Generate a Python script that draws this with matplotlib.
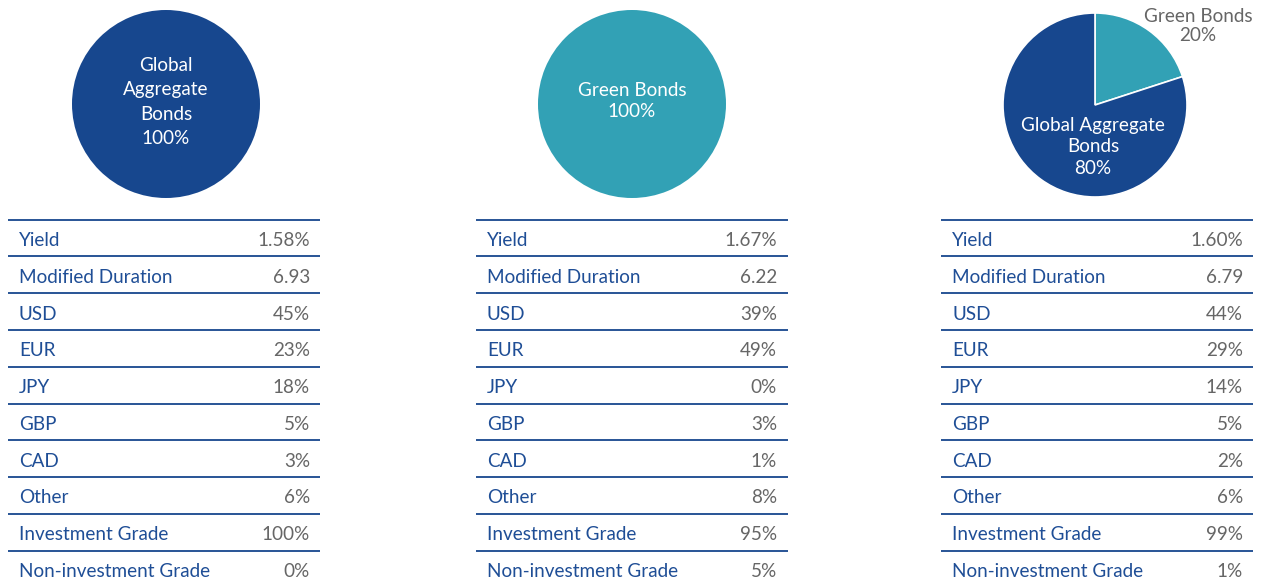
import matplotlib
matplotlib.use("Agg")
import matplotlib.pyplot as plt

# ---- data ----
row_labels = ["Yield", "Modified Duration", "USD", "EUR", "JPY", "GBP", "CAD",
              "Other", "Investment Grade", "Non-investment Grade"]
global_values = ["1.58%", "6.93", "45%", "23%", "18%", "5%", "3%", "6%", "100%", "0%"]
green_values = ["1.67%", "6.22", "39%", "49%", "0%", "3%", "1%", "8%", "95%", "5%"]
blend_values = ["1.60%", "6.79", "44%", "29%", "14%", "5%", "2%", "6%", "99%", "1%"]

pie1_labels = ["Global\nAggregate\nBonds\n100%"]
pie1_values = [100]
pie2_labels = ["Green Bonds\n100%"]
pie2_values = [100]
pie3_labels = ["Green Bonds\n20%", "Global Aggregate\nBonds\n80%"]
pie3_values = [20, 80]

DARK = "#17478E"
TEAL = "#32A1B5"
LABEL = "#1F4E96"
GRAY = "#666666"
FONT = "Lato"
FS = 13.6

W, H = 1262, 583
fig = plt.figure(figsize=(W / 100, H / 100), dpi=100)
fig.patch.set_facecolor("white")

# overlay axes in pixel coordinates for tables and labels
bg = fig.add_axes([0, 0, 1, 1])
bg.set_xlim(0, W)
bg.set_ylim(H, 0)
bg.axis("off")
bg.set_zorder(10)


def pie_axes(cx, cy, r):
    return fig.add_axes([(cx - r) / W, 1 - (cy + r) / H, 2 * r / W, 2 * r / H])


# pie 1
ax1 = pie_axes(166, 104, 94)
ax1.pie(pie1_values, colors=[DARK], startangle=90, counterclock=False, radius=1)
ax1.set_xlim(-1, 1); ax1.set_ylim(-1, 1)
bg.text(166, 102, pie1_labels[0], ha="center", va="center", color="white",
        fontsize=FS, family=FONT, linespacing=1.52)

# pie 2
ax2 = pie_axes(632, 104, 94)
ax2.pie(pie2_values, colors=[TEAL], startangle=90, counterclock=False, radius=1)
ax2.set_xlim(-1, 1); ax2.set_ylim(-1, 1)
bg.text(632, 101, pie2_labels[0], ha="center", va="center", color="white",
        fontsize=FS, family=FONT, linespacing=1.33)

# pie 3
ax3 = pie_axes(1095, 105, 92)
ax3.pie(pie3_values, colors=[TEAL, DARK], startangle=90, counterclock=False, radius=1,
        wedgeprops=dict(edgecolor="white", linewidth=1.2))
ax3.set_xlim(-1, 1); ax3.set_ylim(-1, 1)
bg.text(1198, 26, pie3_labels[0], ha="center", va="center", color=GRAY,
        fontsize=FS, family=FONT, linespacing=1.1)
bg.text(1093, 147, pie3_labels[1], ha="center", va="center", color="white",
        fontsize=FS, family=FONT, linespacing=1.3)

# tables
tables = [(8, 320, 19, 310, global_values),
          (476, 788, 487, 777, green_values),
          (941, 1253, 952, 1243, blend_values)]
top = 219.5
step = 36.8
for x0, x1, xl, xr, vals in tables:
    for i, (lab, val) in enumerate(zip(row_labels, vals)):
        y = top + i * step
        bg.plot([x0, x1], [y, y], color=DARK, lw=1.3, solid_capstyle="butt")
        yc = y + step / 2 + 2.5
        bg.text(xl, yc, lab, ha="left", va="center", color=LABEL, fontsize=FS, family=FONT)
        bg.text(xr, yc, val, ha="right", va="center", color=GRAY, fontsize=FS, family=FONT)

fig.savefig("out.png", dpi=100, facecolor="white")
